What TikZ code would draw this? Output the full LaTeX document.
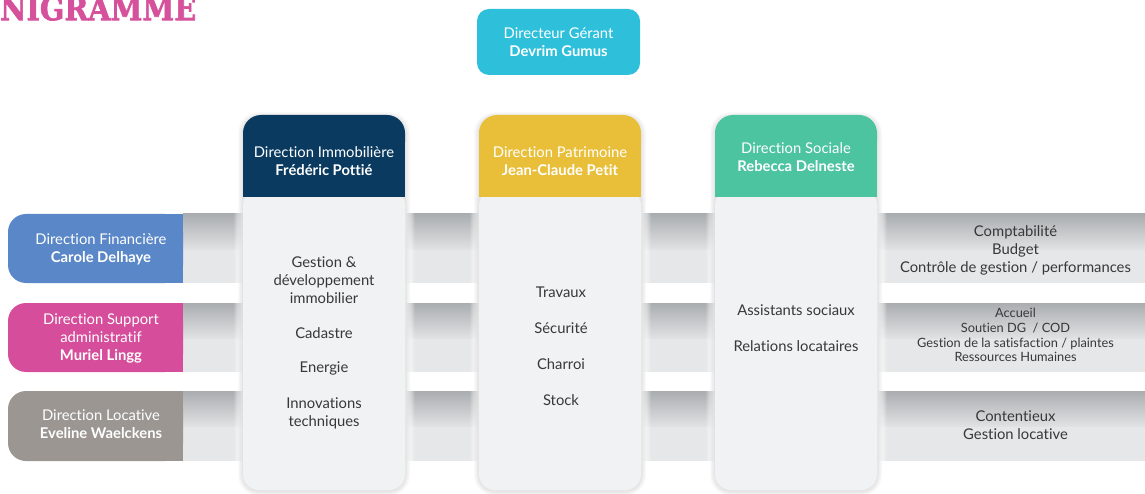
\documentclass[tikz,border=0pt]{standalone}
\usepackage{fontspec}
\usepackage{graphicx}
\setmainfont{Lato}[Ligatures={NoCommon,NoRare}]
\newfontfamily\titlefont{DejaVu Serif}[UprightFont={DejaVu Serif Bold}, FakeBold=2]
\usetikzlibrary{fadings}
\definecolor{cyanbox}{HTML}{2EC0DB}
\definecolor{navy}{HTML}{0A3A60}
\definecolor{yellowbox}{HTML}{E9BF3A}
\definecolor{greenbox}{HTML}{4DC4A0}
\definecolor{bluebox}{HTML}{5A87C7}
\definecolor{pinkbox}{HTML}{D54D9B}
\definecolor{greybox}{HTML}{9B9692}
\definecolor{colbg}{HTML}{F1F2F4}
\definecolor{txtgray}{HTML}{383838}
\definecolor{bandtop}{HTML}{AAADB0}
\definecolor{bandmid}{HTML}{E2E3E4}
\definecolor{bandlow}{HTML}{E6E7E8}
\definecolor{titlepink}{HTML}{D6519B}
\begin{document}
\begin{tikzpicture}[x=1pt,y=-1pt,
  every node/.style={inner sep=0pt, align=center},
  hdr/.style={text=white, font=\fontsize{14.8}{18}\selectfont},
  bodytxt/.style={text=txtgray, font=\fontsize{14.8}{18}\selectfont},
  smalltxt/.style={text=txtgray, font=\fontsize{12.8}{14.7}\selectfont},
]
\useasboundingbox (0,0) rectangle (1145,494);
\clip (0,0) rectangle (1145,494);

% title
\node[anchor=north west, text=titlepink] (title) at (0,-4)
  {\resizebox{196pt}{24pt}{\titlefont NIGRAMME}};

% bands
\foreach \ya/\yb in {214/283, 303/372, 391/461}{
  \shade[top color=bandtop, bottom color=bandmid] (183,\ya) rectangle (1145,{\ya+36});
  \fill[bandlow] (183,{\ya+36}) rectangle (1145,\yb);
}

% left boxes
\foreach \ya/\yb/\c in {214/283/bluebox, 303/372/pinkbox, 391/461/greybox}{
  \fill[\c, rounded corners=18pt] (8,\ya) rectangle (183,\yb);
  \fill[\c] (120,\ya) rectangle (183,\yb);
}

% columns
\foreach \xa/\c in {243/navy, 479/yellowbox, 715/greenbox}{
  % white glow on bands
  \fill[white, path fading=west] ({\xa-10},205) rectangle (\xa,470);
  \fill[white, path fading=east] ({\xa+162},205) rectangle ({\xa+172},470);
  % soft shadow
  \foreach \d in {1,...,5}{
    \fill[black, opacity=0.018, rounded corners={16pt+\d pt}] ({\xa-\d},{115-\d+2}) rectangle ({\xa+162+\d},{490+\d+1});
  }
  % body
  \fill[colbg, rounded corners=16pt] (\xa,190) rectangle ({\xa+162},490);
  % header
  \fill[\c, rounded corners=18pt] (\xa,115) rectangle ({\xa+162},160);
  \fill[\c] (\xa,140) rectangle ({\xa+162},197);
}

% top box
\fill[cyanbox, rounded corners=12pt] (477,9) rectangle (640,75);
\node[hdr] (dg) at (558.5,42) {Directeur Gérant\\\textbf{Devrim Gumus}};

% headers
\node[hdr] (immo) at (324,161) {Direction Immobilière\\\textbf{Frédéric Pottié}};
\node[hdr] (patri) at (560,161) {Direction Patrimoine\\\textbf{Jean-Claude Petit}};
\node[hdr] (soc) at (796,157) {Direction Sociale\\\textbf{Rebecca Delneste}};

% left box texts
\node[hdr] (fin) at (101,249) {Direction Financière\\\textbf{Carole Delhaye}};
\node[hdr] (supp) at (101,338) {Direction Support\\administratif\\\textbf{Muriel Lingg}};
\node[hdr] (loc) at (101,424) {Direction Locative\\\textbf{Eveline Waelckens}};

% column 1
\node[bodytxt] (c1a) at (324,280) {Gestion \&\\développement\\immobilier};
\node[bodytxt] (c1b) at (324,333) {Cadastre};
\node[bodytxt] (c1c) at (324,368) {Energie};
\node[bodytxt] (c1d) at (324,413) {Innovations\\techniques};

% column 2
\node[bodytxt] (c2a) at (561,292) {Travaux};
\node[bodytxt] (c2b) at (561,328) {Sécurité};
\node[bodytxt] (c2c) at (561,364) {Charroi};
\node[bodytxt] (c2d) at (561,400) {Stock};

% column 3
\node[bodytxt] (c3a) at (796,310) {Assistants sociaux};
\node[bodytxt] (c3b) at (796,346) {Relations locataires};

% right texts
\node[bodytxt] (r1) at (1015.5,250) {Comptabilité\\Budget\\Contrôle de gestion / performances};
\node[smalltxt] (r2) at (1015.5,335) {Accueil\\Soutien DG~ / COD\\Gestion de la satisfaction / plaintes\\Ressources Humaines};
\node[bodytxt] (r3) at (1015.5,425) {Contentieux\\Gestion locative};
\end{tikzpicture}
\end{document}
